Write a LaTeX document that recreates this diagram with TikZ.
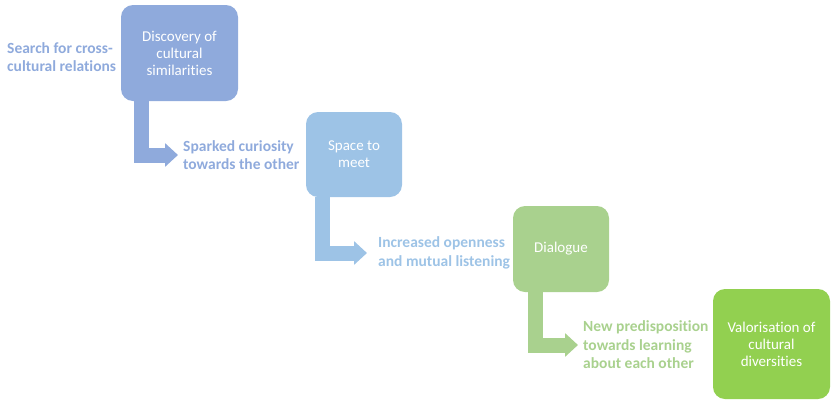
\documentclass[tikz,border=0pt]{standalone}
\usepackage{fontspec}
\setmainfont{Carlito}[Ligatures=CommonOff]
\usetikzlibrary{arrows.meta, positioning}
\definecolor{cblue}{HTML}{8FAADC}
\definecolor{cskyblue}{HTML}{9DC3E6}
\definecolor{clightgreen}{HTML}{A9D18E}
\definecolor{cgreen}{HTML}{92D050}

\begin{document}
\begin{tikzpicture}[x=1pt, y=-1pt,
  box/.style={rounded corners=12pt, text=white, align=center, inner sep=0pt,
    font=\fontsize{15}{17}\selectfont},
  note/.style={anchor=west, align=left, inner sep=0pt,
    font=\fontsize{15.5}{18.5}\selectfont\bfseries},
  flow/.style={line width=15pt, line join=miter,
    -{Triangle[length=13pt, width=23pt]}, shorten >=5pt}]
  \useasboundingbox (0,0) rectangle (831,400);
  % the four steps
  \node[box, fill=cblue, minimum width=117pt, minimum height=96pt] (disc) at (179.5,53) {Discovery of\\cultural\\similarities};
  \node[box, fill=cskyblue, minimum width=96pt, minimum height=85pt] (space) at (354,154.5) {Space to\\meet};
  \node[box, fill=clightgreen, minimum width=96pt, minimum height=86pt] (dial) at (561,249) {Dialogue};
  \node[box, fill=cgreen, minimum width=117pt, minimum height=110pt] (valor) at (771.5,344) {Valorisation of\\cultural\\diversities};
  % notes beside the steps
  \node[note, text=cblue] (search) at (7,57) {Search for cross-\\cultural relations};
  \node[note, text=cblue] (curious) at (183,155) {Sparked curiosity\\towards the other};
  \node[note, text=cskyblue] (open) at (378,253) {Increased openness\\and mutual listening};
  \node[note, text=clightgreen] (learn) at (583,345) {New predisposition\\towards learning\\about each other};
  % bent arrows
  \draw[flow, cblue] ([xshift=20.5pt]disc.south west) |- (curious.west);
  \draw[flow, cskyblue, shorten >=11pt] ([xshift=17pt]space.south west) |- (open.west);
  \draw[flow, clightgreen] ([xshift=22.5pt]dial.south west) |- (learn.west);
\end{tikzpicture}
\end{document}
